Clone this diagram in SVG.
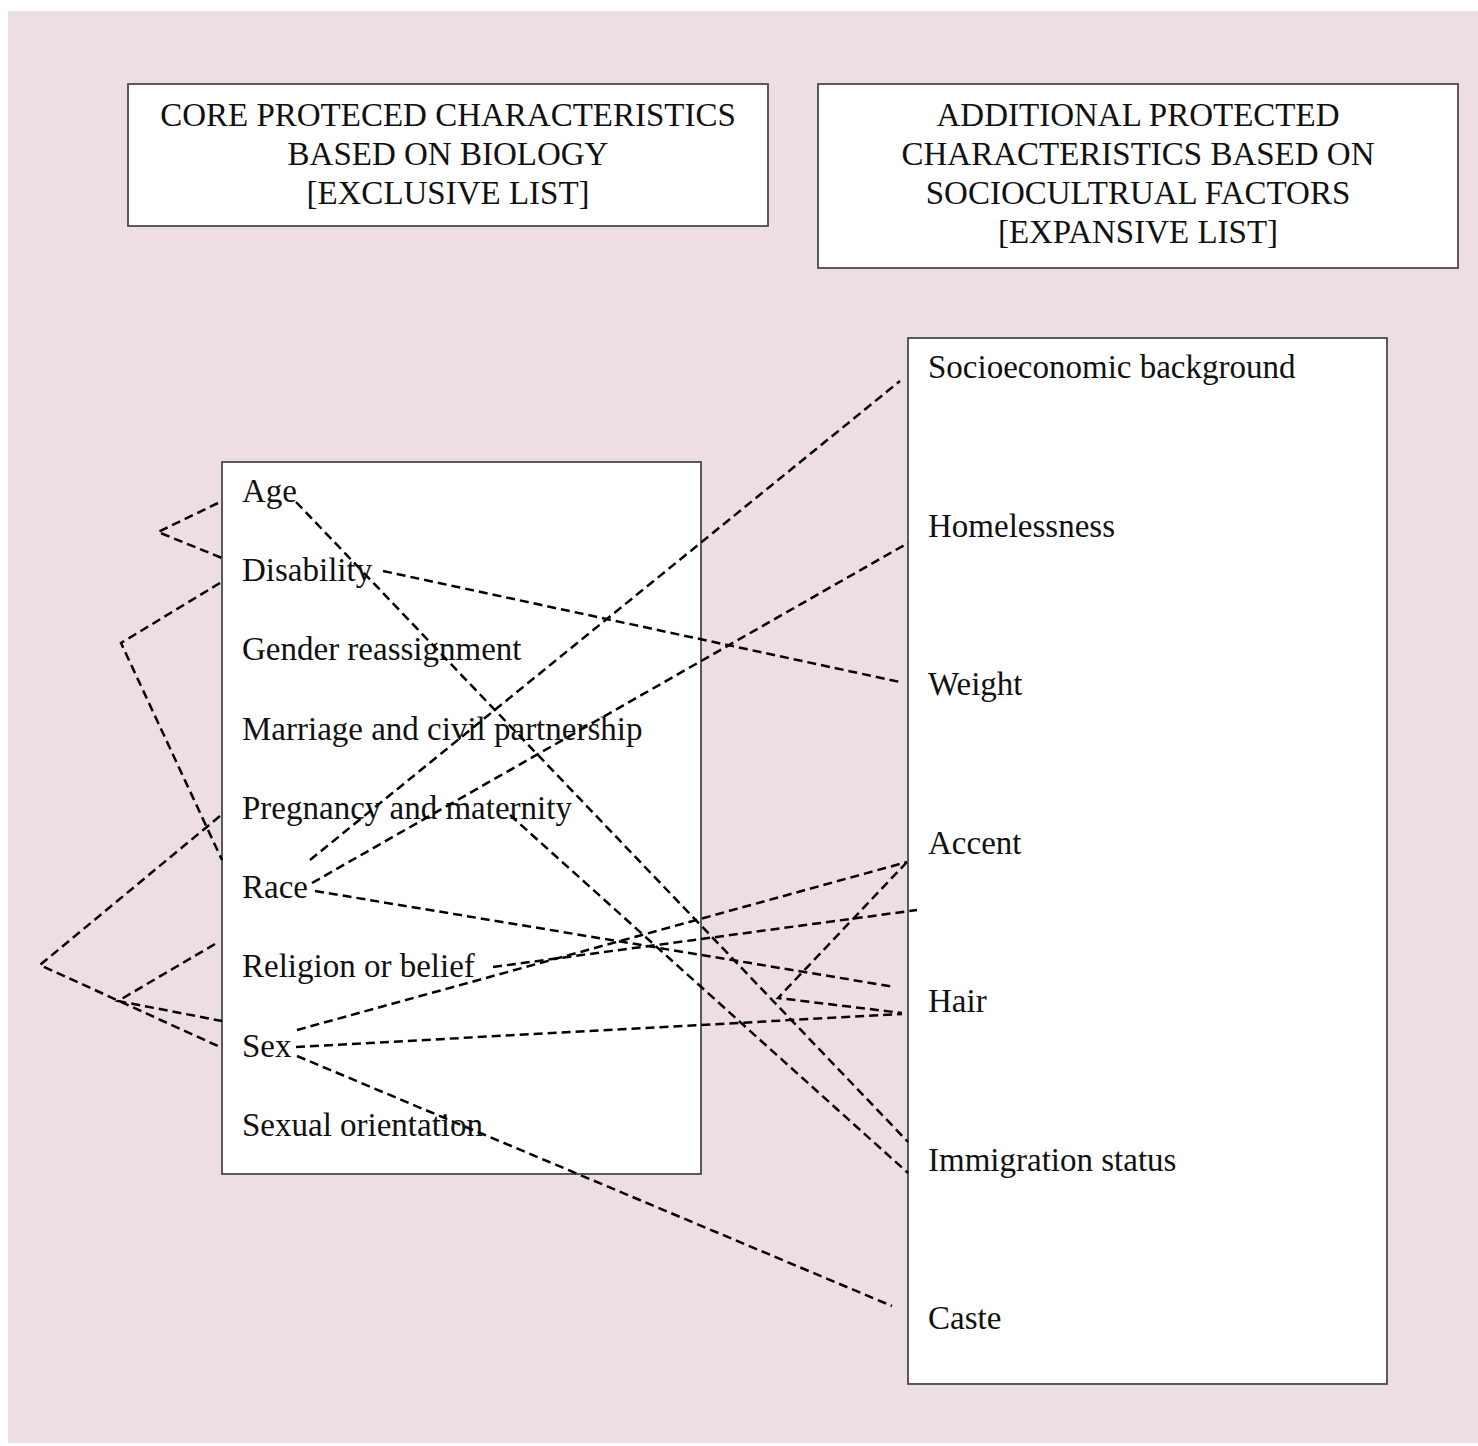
<svg xmlns="http://www.w3.org/2000/svg" width="1478" height="1446" viewBox="0 0 1478 1446">
<style>
.box{fill:#ffffff;stroke:#4a4a4a;stroke-width:1.8}
.t{font-family:"Liberation Serif","Times New Roman",serif;font-size:33px;fill:#111111}
.h{font-family:"Liberation Serif","Times New Roman",serif;font-size:33px;fill:#111111;text-anchor:middle}
.c{fill:none;stroke:#000000;stroke-width:2.5;stroke-dasharray:9 5}
</style>
<rect x="0" y="0" width="1478" height="1446" fill="#ffffff"/>
<rect x="8" y="11" width="1470" height="1432" fill="#EDDDE4"/>
<g id="title-core">
<rect class="box" x="128" y="84" width="640" height="142"/>
<text class="h" x="448" y="126">CORE PROTECED CHARACTERISTICS</text>
<text class="h" x="448" y="165">BASED ON BIOLOGY</text>
<text class="h" x="448" y="204">[EXCLUSIVE LIST]</text>
</g>
<g id="title-additional">
<rect class="box" x="818" y="84" width="640" height="184"/>
<text class="h" x="1138" y="126">ADDITIONAL PROTECTED</text>
<text class="h" x="1138" y="165">CHARACTERISTICS BASED ON</text>
<text class="h" x="1138" y="204">SOCIOCULTRUAL FACTORS</text>
<text class="h" x="1138" y="243">[EXPANSIVE LIST]</text>
</g>
<g id="core-list">
<rect class="box" x="222" y="462" width="479" height="712"/>
<text class="t" x="242" y="502">Age</text>
<text class="t" x="242" y="581">Disability</text>
<text class="t" x="242" y="660">Gender reassignment</text>
<text class="t" x="242" y="740">Marriage and civil partnership</text>
<text class="t" x="242" y="819">Pregnancy and maternity</text>
<text class="t" x="242" y="898">Race</text>
<text class="t" x="242" y="977">Religion or belief</text>
<text class="t" x="242" y="1057">Sex</text>
<text class="t" x="242" y="1136">Sexual orientation</text>
</g>
<g id="additional-list">
<rect class="box" x="908" y="338" width="479" height="1046"/>
<text class="t" x="928" y="378">Socioeconomic background</text>
<text class="t" x="928" y="537">Homelessness</text>
<text class="t" x="928" y="695">Weight</text>
<text class="t" x="928" y="854">Accent</text>
<text class="t" x="928" y="1012">Hair</text>
<text class="t" x="928" y="1171">Immigration status</text>
<text class="t" x="928" y="1329">Caste</text>
</g>
<g id="connectors">
<polyline class="c" points="218,503 158,532 222,558"/>
<polyline class="c" points="220,583 121,643 222,860"/>
<polyline class="c" points="220,816 40,965 220,1047"/>
<polyline class="c" points="215,944 118,1001 222,1021"/>
<line class="c" x1="296" y1="502" x2="908" y2="1142"/>
<line class="c" x1="510" y1="815" x2="908" y2="1173"/>
<line class="c" x1="383" y1="571" x2="900" y2="682"/>
<line class="c" x1="310" y1="860" x2="900" y2="381"/>
<line class="c" x1="312" y1="883" x2="908" y2="543"/>
<line class="c" x1="315" y1="891" x2="895" y2="987"/>
<line class="c" x1="493" y1="967" x2="917" y2="910"/>
<line class="c" x1="297" y1="1030" x2="907" y2="862"/>
<line class="c" x1="296" y1="1047" x2="902" y2="1014"/>
<polyline class="c" points="907,862 778,998 902,1013"/>
<line class="c" x1="297" y1="1056" x2="892" y2="1306"/>
</g>
</svg>
